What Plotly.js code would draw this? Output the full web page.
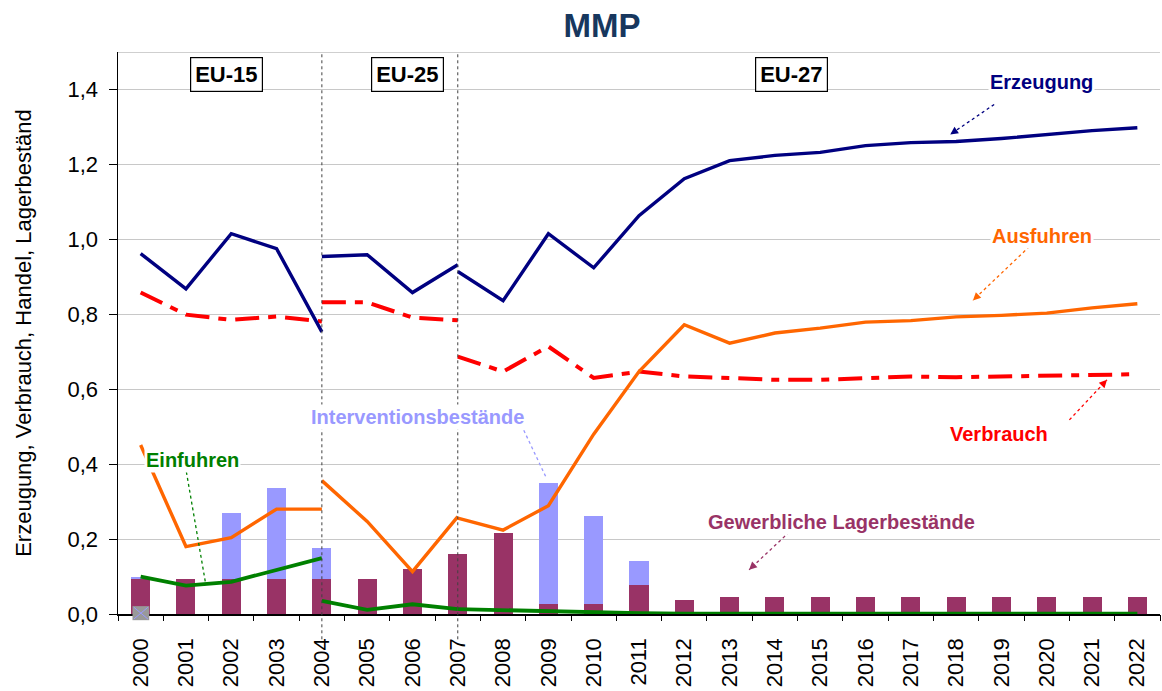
<!DOCTYPE html>
<html>
<head>
<meta charset="utf-8">
<script src="https://cdn.plot.ly/plotly-3.0.1.min.js"></script>
<style>html,body{margin:0;padding:0;background:#fff;}#chart{width:1162px;height:691px;}</style>
</head>
<body>
<div id="chart"></div>
<script>
// ---- Data ----
const years = [2000,2001,2002,2003,2004,2005,2006,2007,2008,2009,2010,2011,2012,2013,2014,2015,2016,2017,2018,2019,2020,2021,2022];
const yearLabels = ["2000","2001","2002","2003","2004","2005","2006","2007","2008","2009","2010","2011","2012","2013","2014","2015","2016","2017","2018","2019","2020","2021","2022"];

const gewerbliche = [0.093,0.093,0.093,0.093,0.093,0.093,0.120,0.160,0.216,0.027,0.027,0.078,0.037,0.045,0.045,0.045,0.045,0.045,0.045,0.045,0.045,0.045,0.045];
const intervention = [0.006,0,0.177,0.244,0.083,0,0,0,0,0.323,0.235,0.064,0,0,0,0,0,0,0,0,0,0,0];

const xEU15 = [2000,2001,2002,2003,2004];
const xEU25 = [2004,2005,2006,2007];
const xEU27 = [2007,2008,2009,2010,2011,2012,2013,2014,2015,2016,2017,2018,2019,2020,2021,2022];

const erzeugungEU15 = [0.962,0.868,1.015,0.975,0.753];
const erzeugungEU25 = [0.954,0.959,0.858,0.932];
const erzeugungEU27 = [0.914,0.836,1.015,0.924,1.063,1.162,1.210,1.224,1.232,1.250,1.258,1.261,1.269,1.280,1.290,1.298];

const verbrauchEU15 = [0.858,0.799,0.785,0.794,0.781];
const verbrauchEU25 = [0.832,0.832,0.791,0.784];
const verbrauchEU27 = [0.687,0.647,0.714,0.630,0.647,0.634,0.630,0.625,0.625,0.630,0.634,0.632,0.634,0.638,0.640,0.640];

const ausfuhrenEU15 = [0.451,0.180,0.204,0.280,0.280];
const ausfuhrenEU25 = [0.356,0.247,0.113,0.260];
const ausfuhrenEU27 = [0.256,0.224,0.289,0.480,0.647,0.772,0.723,0.750,0.763,0.779,0.783,0.793,0.797,0.803,0.817,0.828];

const einfuhrenEU15 = [0.100,0.076,0.086,0.118,0.149];
const einfuhrenEU25 = [0.035,0.011,0.026,0.013];
const einfuhrenEU27 = [0.013,0.010,0.008,0.005,0.002,0.001,0.001,0.001,0.001,0.001,0.001,0.001,0.001,0.001,0.001,0.001];

const boundaries = [1999.5,2000.5,2001.5,2002.5,2003.5,2004.5,2005.5,2006.5,2007.5,2008.5,2009.5,2010.5,2011.5,2012.5,2013.5,2014.5,2015.5,2016.5,2017.5,2018.5,2019.5,2020.5,2021.5,2022.5];
const enlargements = [2004, 2007];

// ---- Styles ----
const C = {
  erz: '#000080', verb: '#FF0000', aus: '#FF6600', ein: '#008000',
  gew: '#993366', int: '#9999FF'
};
const FONT = 'Liberation Sans, Arial, sans-serif';

const traces = [];
traces.push({type:'bar', x: years, y: gewerbliche, marker:{color:C.gew}, width:0.42, hoverinfo:'skip'});
traces.push({type:'bar', x: years, y: intervention, marker:{color:C.int}, width:0.42, hoverinfo:'skip'});

function seg(x, y, color, width, dash) {
  traces.push({type:'scatter', mode:'lines', x:x, y:y, line:{color:color, width:width, dash:dash||'solid'}, hoverinfo:'skip'});
}
const vdash = '24px,9px,8px,9px';
seg(xEU15, verbrauchEU15, C.verb, 4, vdash);
seg(xEU25, verbrauchEU25, C.verb, 4, vdash);
seg(xEU27, verbrauchEU27, C.verb, 4, vdash);
seg(xEU15, erzeugungEU15, C.erz, 3.4);
seg(xEU25, erzeugungEU25, C.erz, 3.4);
seg(xEU27, erzeugungEU27, C.erz, 3.4);
seg(xEU15, ausfuhrenEU15, C.aus, 3.4);
seg(xEU25, ausfuhrenEU25, C.aus, 3.4);
seg(xEU27, ausfuhrenEU27, C.aus, 3.4);
seg(xEU15, einfuhrenEU15, C.ein, 3.8);
seg(xEU25, einfuhrenEU25, C.ein, 3.8);
seg(xEU27, einfuhrenEU27, C.ein, 3.8);

// dummy trace for the secondary x-axis (tick marks between categories)
traces.push({type:'scatter', x:[2000], y:[0], xaxis:'x2', mode:'markers', marker:{opacity:0}, hoverinfo:'skip'});

const shapes = [];
enlargements.forEach(v => shapes.push({type:'line', xref:'x', yref:'paper', x0:v, x1:v, y0:-0.045, y1:1, line:{color:'#404040', width:1, dash:'dot'}}));

// small grey placeholder box at the base of the 2000 bar
shapes.push({type:'rect', xref:'x', yref:'paper', x0:1999.82, x1:2000.19, y0:-0.011, y1:0.014, fillcolor:'#999999', line:{width:0}});
shapes.push({type:'line', xref:'x', yref:'paper', x0:1999.85, x1:2000.16, y0:-0.009, y1:0.012, line:{color:'#9999FF', width:1}});
shapes.push({type:'line', xref:'x', yref:'paper', x0:1999.85, x1:2000.16, y0:0.012, y1:-0.009, line:{color:'#9999FF', width:1}});

// dotted leader lines for labels: [x0,y0,x1,y1,color]
const leaders = [
  [2018.84,1.360,2017.87,1.280,C.erz],
  [2019.62,0.981,2018.37,0.837,C.aus],
  [2020.50,0.518,2021.33,0.625,C.verb],
  [2008.40,0.505,2008.94,0.367,C.int],
  [2001.01,0.379,2001.44,0.077,C.ein],
  [2014.32,0.219,2013.43,0.118,C.gew]
];
const annotations = [];
leaders.forEach(l => {
  shapes.push({type:'line', xref:'x', yref:'y', x0:l[0], y0:l[1], x1:l[2], y1:l[3], line:{color:l[4], width:1.3, dash:'dot'}});
  const dx = (l[2]-l[0])*45.3, dy = -(l[3]-l[1])*374.3;
  const len = Math.sqrt(dx*dx+dy*dy);
  annotations.push({x:l[2], y:l[3], xref:'x', yref:'y', text:' ', showarrow:true, arrowhead:2, arrowsize:1.2, arrowwidth:1.3, arrowcolor:l[4], ax:-dx/len*8, ay:-dy/len*8});
});

function label(text, x, y, color) {
  annotations.push({x:x, y:y, xref:'x', yref:'y', text:'<b>'+text+'</b>', showarrow:false, font:{family:FONT, size:20, color:color}, bgcolor:'#ffffff', borderpad:1});
}
label('Erzeugung', 2019.88, 1.421, C.erz);
label('Ausfuhren', 2019.90, 1.010, C.aus);
label('Verbrauch', 2018.95, 0.481, C.verb);
label('Interventionsbestände', 2006.10, 0.527, C.int);
label('Einfuhren', 2001.14, 0.411, C.ein);
label('Gewerbliche Lagerbestände', 2015.46, 0.246, C.gew);

function box(text, x) {
  annotations.push({x:x, y:1.44, xref:'x', yref:'y', text:'<b>'+text+'</b>', showarrow:false, font:{family:FONT, size:22, color:'#000'}, bgcolor:'#ffffff', bordercolor:'#000', borderwidth:1.2, borderpad:4});
}
box('EU-15', 2001.90);
box('EU-25', 2005.88);
box('EU-27', 2014.36);

const layout = {
  width:1162, height:691,
  margin:{l:118, r:2, t:52, b:77},
  paper_bgcolor:'#fff', plot_bgcolor:'#fff',
  showlegend:false,
  barmode:'stack',
  separators:',.',
  font:{family:FONT, color:'#000'},
  title:{text:'<b>MMP</b>', xref:'container', x:0.518, xanchor:'center', yref:'container', y:0.963, yanchor:'middle', font:{family:FONT, size:33, color:'#17375E'}},
  xaxis:{range:[1999.5,2022.5], tickmode:'array', tickvals:years, ticktext:yearLabels, tickangle:-90, ticks:'', ticklabelstandoff:14, tickfont:{size:22, family:FONT}, showgrid:false, showline:true, linecolor:'#000', linewidth:1.5, zeroline:false, fixedrange:true},
  xaxis2:{overlaying:'x', range:[1999.5,2022.5], tickmode:'array', tickvals:boundaries, ticks:'outside', ticklen:6, tickcolor:'#000', showticklabels:false, showgrid:false, showline:false, zeroline:false, side:'bottom', anchor:'y'},
  yaxis:{range:[0,1.5], tickmode:'array', tickvals:[0,0.2,0.4,0.6,0.8,1.0,1.2,1.4], tickformat:'.1f', ticks:'outside', ticklen:8, tickcolor:'#000', ticklabelstandoff:6, tickfont:{size:22, family:FONT}, showgrid:true, gridcolor:'#C8C8C8', gridwidth:1, showline:true, linecolor:'#000', linewidth:1.5, zeroline:false, mirror:false,
    title:{text:'Erzeugung, Verbrauch, Handel, Lagerbeständ', font:{size:22, family:FONT}, standoff:30}},
  shapes: shapes.concat([{type:'line', xref:'paper', yref:'y', x0:0, x1:1, y0:1.5, y1:1.5, line:{color:'#A0A0A0', width:1}}]),
  annotations: annotations
};

Plotly.newPlot('chart', traces, layout, {displayModeBar:false, staticPlot:true});
</script>
</body>
</html>
